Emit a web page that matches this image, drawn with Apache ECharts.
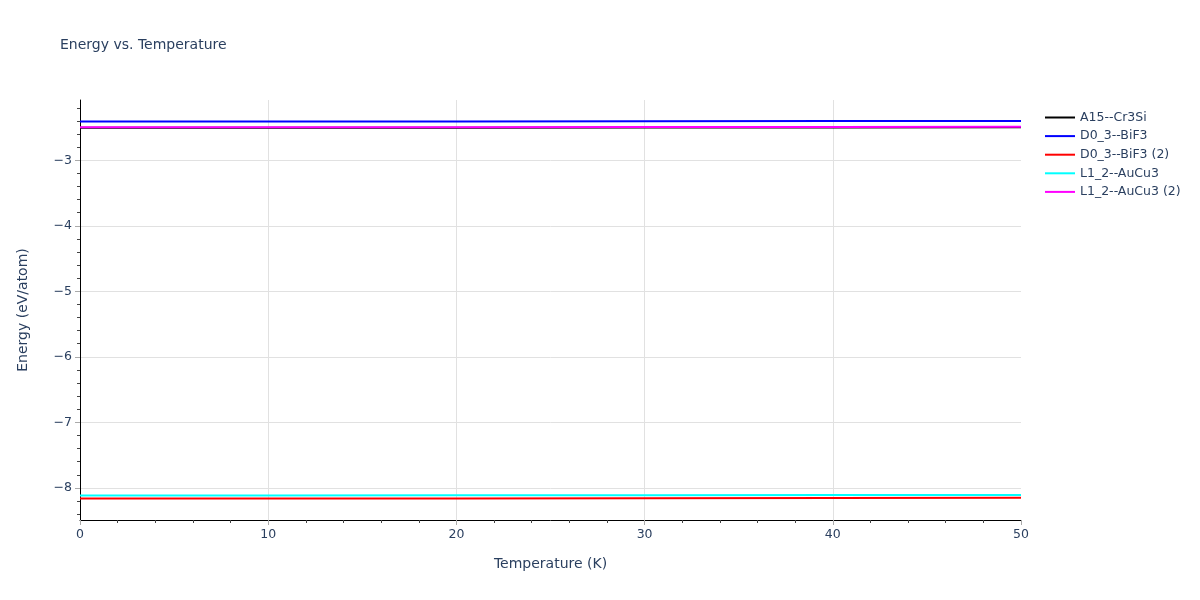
<!DOCTYPE html>
<html><head><meta charset="utf-8">
<script src="https://cdn.jsdelivr.net/npm/echarts@6/dist/echarts.min.js"></script>
<style>html,body{margin:0;padding:0;background:#fff}#c{width:1200px;height:600px}</style>
</head><body><div id="c"></div>
<script>
const temperatures = [0, 10, 20, 30, 40, 50];
const seriesNames = ['A15--Cr3Si', 'D0_3--BiF3', 'D0_3--BiF3 (2)', 'L1_2--AuCu3', 'L1_2--AuCu3 (2)'];
const seriesColors = ['#000000', '#0000ff', '#ff0000', '#00ffff', '#ff00ff'];
const a15Cr3Si = [-2.505, -2.504, -2.503, -2.501, -2.499, -2.497];
const d03BiF3 = [-2.410, -2.409, -2.407, -2.405, -2.402, -2.399];
const d03BiF3b = [-8.163, -8.162, -8.160, -8.158, -8.155, -8.152];
const l12AuCu3 = [-8.117, -8.116, -8.114, -8.112, -8.110, -8.107];
const l12AuCu3b = [-2.497, -2.496, -2.495, -2.493, -2.491, -2.488];
const xGridTicks = [10, 20, 30, 40];
const yMajorTicks = [-8, -7, -6, -5, -4, -3];
const yMinorTicks = [-8.4,-8.2,-7.8,-7.6,-7.4,-7.2,-6.8,-6.6,-6.4,-6.2,-5.8,-5.6,-5.4,-5.2,-4.8,-4.6,-4.4,-4.2,-3.8,-3.6,-3.4,-3.2,-2.8,-2.6,-2.4,-2.2];
const yMin = -8.49, yMax = -2.08;

const allData = [a15Cr3Si, d03BiF3, d03BiF3b, l12AuCu3, l12AuCu3b];
const txt = '#2a3f5f';
const font = '"DejaVu Sans", Verdana, sans-serif';
const chart = echarts.init(document.getElementById('c'));
chart.setOption({
  animation: false,
  backgroundColor: '#fff',
  title: { text: 'Energy vs. Temperature', left: 55, top: 33, textStyle: { color: txt, fontSize: 14, fontWeight: 'normal', fontFamily: font } },
  legend: {
    orient: 'vertical', left: 1040, top: 106, itemWidth: 30, itemHeight: 2, itemGap: 5.6,
    icon: 'rect',
    textStyle: { color: txt, fontSize: 12.5, fontFamily: font },
    data: seriesNames
  },
  grid: { left: 80, right: 179, top: 100, bottom: 80 },
  xAxis: [{
    type: 'value', min: 0, max: 50, interval: 10,
    name: 'Temperature (K)', nameLocation: 'middle', nameGap: 37,
    nameTextStyle: { color: txt, fontSize: 14, fontFamily: font },
    axisLine: { show: true, lineStyle: { color: '#000', width: 1 } },
    axisTick: { show: true, length: 5, lineStyle: { color: '#aaa' } },
    minorTick: { show: true, splitNumber: 5, length: 3, lineStyle: { color: '#444' } },
    axisLabel: { color: txt, fontSize: 12.5, fontFamily: font, margin: 8 },
    splitLine: { show: false }
  }, {
    type: 'value', min: 0, max: 50, position: 'bottom',
    axisLine: { show: false },
    axisTick: { show: false, customValues: xGridTicks },
    axisLabel: { show: false, customValues: xGridTicks },
    splitLine: { show: true, lineStyle: { color: '#e1e1e1', width: 1 } }
  }],
  yAxis: [{
    type: 'value', min: yMin, max: yMax,
    name: 'Energy (eV/atom)', nameLocation: 'middle', nameGap: 50,
    nameTextStyle: { color: txt, fontSize: 14, fontFamily: font },
    axisLine: { show: true, lineStyle: { color: '#000', width: 1 } },
    axisTick: { show: true, length: 5, customValues: yMajorTicks, lineStyle: { color: '#aaa' } },
    axisLabel: { color: txt, fontSize: 12.5, fontFamily: font, margin: 8, customValues: yMajorTicks,
      formatter: v => String(v).replace('-', '\u2212') },
    splitLine: { show: true, lineStyle: { color: '#e1e1e1', width: 1 } }
  }, {
    type: 'value', min: yMin, max: yMax, position: 'left',
    axisLine: { show: false },
    axisTick: { show: true, length: 3, customValues: yMinorTicks, lineStyle: { color: '#444' } },
    axisLabel: { show: false, customValues: yMinorTicks },
    splitLine: { show: false }
  }],
  series: seriesNames.map((n, i) => ({
    name: n, type: 'line', showSymbol: false, symbol: 'none',
    data: temperatures.map((t, j) => [t, allData[i][j]]),
    lineStyle: { color: seriesColors[i], width: 2 },
    itemStyle: { color: seriesColors[i] },
    z: 2 + i
  }))
});
</script></body></html>
